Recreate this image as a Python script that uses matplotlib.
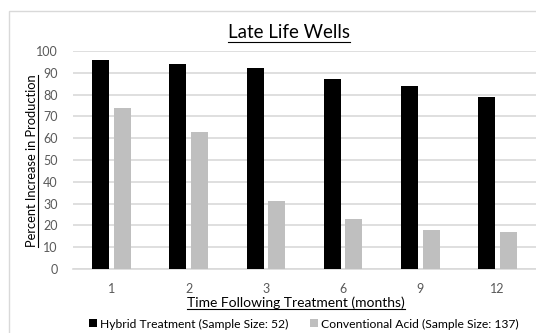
import numpy as np
import matplotlib.pyplot as plt
from matplotlib.patches import Rectangle
from matplotlib.lines import Line2D

plt.rcParams['font.family'] = ['Lato', 'DejaVu Sans']

months = ['1', '2', '3', '6', '9', '12']
hybrid = [96, 94, 92, 87, 84, 79]
conventional = [74, 63, 31, 23, 18, 17]
y_ticks = [0, 10, 20, 30, 40, 50, 60, 70, 80, 90, 100]

fig = plt.figure(figsize=(5.36, 3.33), dpi=100)
fig.patches.append(Rectangle((9 / 536, -0.1), 1.0, 1 - 11 / 333 + 0.1,
                             transform=fig.transFigure, fill=False,
                             edgecolor='#d9d9d9', linewidth=1.0))
ax = fig.add_axes([73 / 536, 1 - 269 / 333, 463 / 536, 218 / 333])

x = np.arange(len(months))
w = 0.22
ax.bar(x - 0.03 - w / 2, hybrid, w, color='black', zorder=3,
       label='Hybrid Treatment (Sample Size: 52)')
ax.bar(x + 0.03 + w / 2, conventional, w, color='#bfbfbf', zorder=3,
       label='Conventional Acid (Sample Size: 137)')

ax.set_xlim(-0.5, len(months) - 0.5)
ax.set_ylim(0, 100)
ax.set_yticks(y_ticks)
ax.set_xticks(x)
ax.set_xticklabels(months)
ax.tick_params(length=0, labelsize=9, labelcolor='#595959', pad=10)
ax.tick_params(axis='y', pad=11)
ax.grid(axis='y', color='#d9d9d9', linewidth=1.2, zorder=0)
for s in ['top', 'right', 'left']:
    ax.spines[s].set_visible(False)
ax.spines['bottom'].set_color('#d9d9d9')
ax.spines['bottom'].set_linewidth(1.2)

ylab = fig.text(32 / 536, 1 - 161 / 333, 'Percent Increase in Production',
                fontsize=9.3, rotation=90, ha='center', va='center')
xlab = fig.text(296 / 536, 1 - 303 / 333, 'Time Following Treatment (months)',
                fontsize=10, ha='center', va='center')
title = fig.text(289 / 536, 1 - 33 / 333, 'Late Life Wells',
                 fontsize=13.5, ha='center', va='center')

fig.legend(loc='center', bbox_to_anchor=(304 / 536, 1 - 324 / 333), ncol=2,
           frameon=False, fontsize=8.7, handlelength=0.6, handleheight=0.6,
           handletextpad=0.3, columnspacing=1.8)

# underline the title and axis labels
fig.canvas.draw()
r = fig.canvas.get_renderer()
inv = fig.transFigure.inverted()
for t, vertical in [(title, False), (xlab, False), (ylab, True)]:
    bb = t.get_window_extent(r)
    (x0, y0), (x1, y1) = inv.transform([[bb.x0, bb.y0], [bb.x1, bb.y1]])
    if vertical:
        fig.lines.append(Line2D([x1, x1], [y0, y1], transform=fig.transFigure,
                                color='black', linewidth=0.8))
    else:
        fig.lines.append(Line2D([x0, x1], [y0, y0], transform=fig.transFigure,
                                color='black', linewidth=0.8))

fig.savefig('out.png', dpi=100, facecolor='white')
